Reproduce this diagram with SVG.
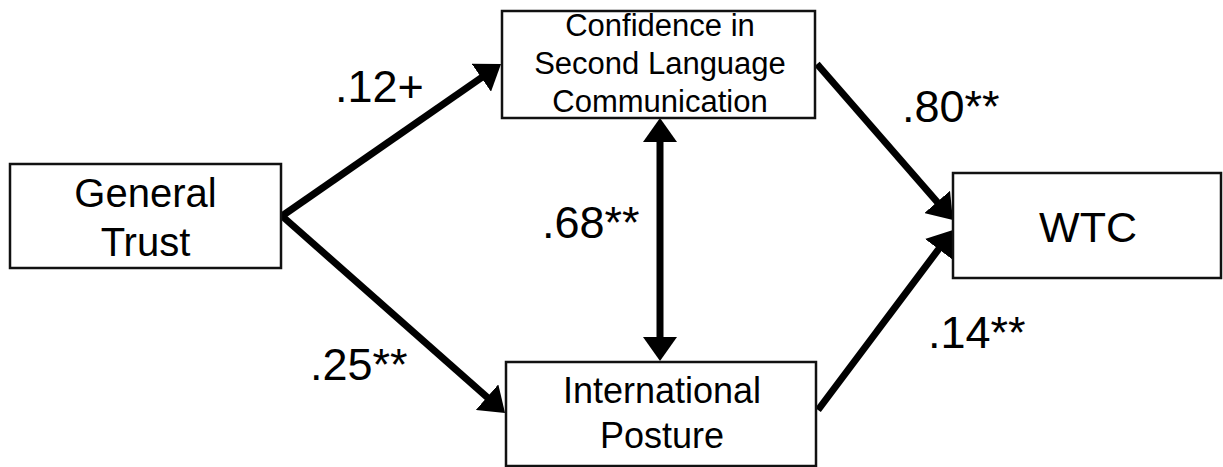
<svg xmlns="http://www.w3.org/2000/svg" width="1223" height="467" viewBox="0 0 1223 467">
  <style>
    .box { fill: #ffffff; stroke: #111111; stroke-width: 2.5; }
    .lbl { font-family: "Liberation Sans", Arial, sans-serif; fill: #000000; text-anchor: middle; }
    .coef { font-family: "Liberation Sans", Arial, sans-serif; fill: #000000; font-size: 45px; }
    .path { stroke: #000000; stroke-width: 7; fill: none; marker-end: url(#head); }
  </style>
  <defs>
    <marker id="head" markerUnits="userSpaceOnUse" markerWidth="24" markerHeight="34" refX="9" refY="17" orient="auto-start-reverse">
      <path d="M0,0 L24,17 L0,34 z" fill="#000000"/>
    </marker>
  </defs>

  <rect width="1223" height="467" fill="#ffffff"/>

  <!-- connectors -->
  <g id="connectors">
    <line class="path" x1="282" y1="216" x2="488.7" y2="72.6"/>
    <line class="path" x1="282" y1="216" x2="493.8" y2="403.1"/>
    <line class="path" x1="817" y1="64" x2="943.1" y2="208.7"/>
    <line class="path" x1="818" y1="410" x2="944" y2="242"/>
    <line class="path" x1="660" y1="133" x2="660" y2="346" marker-start="url(#head)"/>
  </g>

  <!-- nodes -->
  <g id="general-trust">
    <rect class="box" x="10" y="164" width="271" height="104"/>
    <text class="lbl" font-size="40" x="145.5" y="207">General</text>
    <text class="lbl" font-size="40" x="145.5" y="256">Trust</text>
  </g>

  <g id="confidence">
    <rect class="box" x="502" y="11" width="313" height="107"/>
    <text class="lbl" font-size="31" x="660" y="36">Confidence in</text>
    <text class="lbl" font-size="31" x="660" y="74">Second Language</text>
    <text class="lbl" font-size="31" x="660" y="112">Communication</text>
  </g>

  <g id="international-posture">
    <rect class="box" x="506" y="362" width="310" height="104"/>
    <text class="lbl" font-size="36" x="662" y="403">International</text>
    <text class="lbl" font-size="36" x="662" y="448">Posture</text>
  </g>

  <g id="wtc">
    <rect class="box" x="953" y="173" width="268" height="105"/>
    <text class="lbl" font-size="43" x="1088" y="242">WTC</text>
  </g>

  <!-- path coefficients -->
  <g id="coefficients">
    <text class="coef" x="335" y="102">.12+</text>
    <text class="coef" x="310" y="380">.25**</text>
    <text class="coef" x="542" y="238">.68**</text>
    <text class="coef" x="902" y="122">.80**</text>
    <text class="coef" x="928" y="348">.14**</text>
  </g>
</svg>
